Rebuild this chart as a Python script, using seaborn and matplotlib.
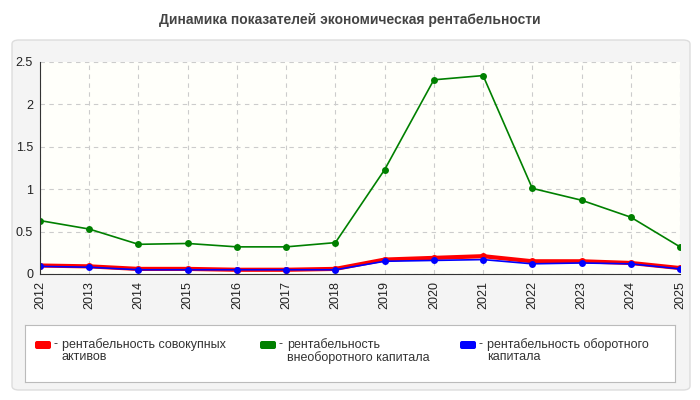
import matplotlib
matplotlib.use("Agg")
import matplotlib.pyplot as plt
import seaborn as sns
import pandas as pd
from matplotlib.patches import FancyBboxPatch

years = list(range(2012, 2026))
green = [0.63, 0.53, 0.35, 0.36, 0.32, 0.32, 0.37, 1.23, 2.29, 2.34, 1.01, 0.87, 0.67, 0.32]
red = [0.10, 0.09, 0.06, 0.06, 0.05, 0.05, 0.06, 0.17, 0.19, 0.21, 0.15, 0.15, 0.13, 0.07]
blue = [0.09, 0.08, 0.05, 0.05, 0.05, 0.05, 0.05, 0.15, 0.16, 0.17, 0.12, 0.13, 0.12, 0.06]
labels = ["рентабельность совокупных\nактивов", "рентабельность\nвнеоборотного капитала", "рентабельность оборотного\nкапитала"]
title = "Динамика показателей экономическая рентабельности"

sns.set_style("white")
plt.rcParams['font.family'] = ['Liberation Sans', 'DejaVu Sans']

fig = plt.figure(figsize=(7, 4), dpi=100)
fig.patch.set_facecolor("white")
fig.patches.append(FancyBboxPatch((12/700, 10/400), 678/700, 350/400, boxstyle="round,pad=0,rounding_size=0.01",
                                  transform=fig.transFigure, facecolor="#f4f4f4", edgecolor="#dddddd", lw=1, zorder=-10))
fig.text(0.5, 1-20/400, title, ha="center", va="center", fontsize=10, fontweight="bold", color="#444444")

ax = fig.add_axes([40/700, 1-274/400, 640/700, 212/400])
ax.set_facecolor("#fffffa")
df = pd.DataFrame({"year": years * 3, "value": red + green + blue,
                   "series": [labels[0]]*14 + [labels[1]]*14 + [labels[2]]*14})
pal = {labels[0]: "#ff0000", labels[1]: "#008000", labels[2]: "#0000ff"}
sns.lineplot(data=df, x="year", y="value", hue="series", palette=pal, marker="o", markersize=5,
             markeredgewidth=0, ax=ax, legend=False, lw=1.2)
ax.lines[0].set_linewidth(3)
ax.set_xlim(2012, 2025)
ax.set_ylim(0, 2.5)
ax.set_xticks(years)
ax.set_xticklabels([str(y) for y in years], rotation=90, fontsize=9)
ax.set_yticks([0, 0.5, 1, 1.5, 2, 2.5])
ax.set_yticklabels(["0", "0.5", "1", "1.5", "2", "2.5"], fontsize=9)
ax.tick_params(length=3, pad=2, colors="#222222")
ax.set_xlabel(""); ax.set_ylabel("")
ax.grid(True, ls=(0, (4, 4)), color="#cccccc", lw=0.8)
for s in ["top", "right"]:
    ax.spines[s].set_visible(False)
for s in ["left", "bottom"]:
    ax.spines[s].set_color("#333333")

lax = fig.add_axes([25/700, 1-382/400, 650/700, 57/400])
lax.set_xlim(0, 650); lax.set_ylim(57, 0)
lax.set_xticks([]); lax.set_yticks([])
lax.set_facecolor("white")
for s in lax.spines.values():
    s.set_color("#bbbbbb")
xs = [10, 235, 435]
for x, lab, c in zip(xs, labels, pal.values()):
    lax.add_patch(FancyBboxPatch((x, 16), 16, 8, boxstyle="round,pad=0,rounding_size=2", facecolor=c, edgecolor="none"))
    lax.text(x + 19, 13, "- ", va="top", ha="left", fontsize=9, color="#333333")
    lax.text(x + 27, 13, lab, va="top", ha="left", fontsize=9, color="#333333", linespacing=1.0)

fig.savefig("out.png", dpi=100)
